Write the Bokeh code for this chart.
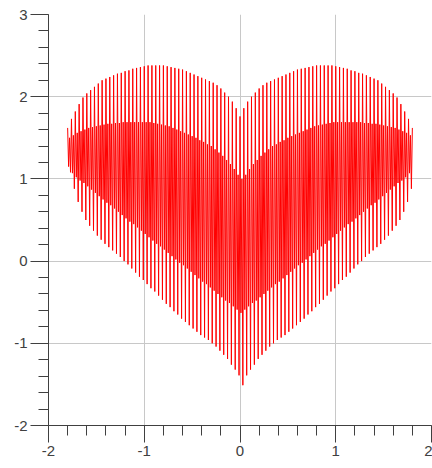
from bokeh.plotting import figure
from bokeh.embed import file_html
from bokeh.resources import INLINE
from bokeh.models import SingleIntervalTicker, CustomJSTickFormatter, ColumnDataSource

# x position of each stroke group (one group of four points every 0.04)
stroke_x = [-1.80, -1.76, -1.72, -1.68, -1.64, -1.60, -1.56, -1.52, -1.48, -1.44,
            -1.40, -1.36, -1.32, -1.28, -1.24, -1.20, -1.16, -1.12, -1.08, -1.04,
            -1.00, -0.96, -0.92, -0.88, -0.84, -0.80, -0.76, -0.72, -0.68, -0.64,
            -0.60, -0.56, -0.52, -0.48, -0.44, -0.40, -0.36, -0.32, -0.28, -0.24,
            -0.20, -0.16, -0.12, -0.08, -0.04, 0.00, 0.04, 0.08, 0.12, 0.16,
            0.20, 0.24, 0.28, 0.32, 0.36, 0.40, 0.44, 0.48, 0.52, 0.56,
            0.60, 0.64, 0.68, 0.72, 0.76, 0.80, 0.84, 0.88, 0.92, 0.96,
            1.00, 1.04, 1.08, 1.12, 1.16, 1.20, 1.24, 1.28, 1.32, 1.36,
            1.40, 1.44, 1.48, 1.52, 1.56, 1.60, 1.64, 1.68, 1.72, 1.76, 1.80]

# outer top of the strokes
outer_top = [1.62, 1.73, 1.82, 1.91, 1.99, 2.04, 2.08, 2.12, 2.16, 2.20,
             2.22, 2.24, 2.26, 2.28, 2.29, 2.31, 2.32, 2.34, 2.35, 2.36,
             2.37, 2.38, 2.38, 2.38, 2.38, 2.38, 2.37, 2.36, 2.35, 2.34,
             2.33, 2.31, 2.29, 2.27, 2.25, 2.23, 2.21, 2.19, 2.17, 2.14,
             2.10, 2.05, 2.00, 1.94, 1.86, 1.76, 1.86, 1.94, 2.00, 2.05,
             2.10, 2.14, 2.17, 2.19, 2.21, 2.23, 2.25, 2.27, 2.29, 2.31,
             2.33, 2.34, 2.35, 2.36, 2.37, 2.38, 2.38, 2.38, 2.38, 2.38,
             2.37, 2.36, 2.35, 2.34, 2.32, 2.31, 2.29, 2.28, 2.26, 2.24,
             2.22, 2.20, 2.16, 2.12, 2.08, 2.04, 1.99, 1.91, 1.82, 1.73, 1.62]

# upper edge of the inner (dense) heart
inner_top = [1.50, 1.53, 1.56, 1.58, 1.60, 1.62, 1.63, 1.64, 1.65, 1.66,
             1.67, 1.67, 1.68, 1.68, 1.69, 1.69, 1.69, 1.69, 1.69, 1.69,
             1.69, 1.69, 1.68, 1.67, 1.66, 1.65, 1.64, 1.62, 1.60, 1.58,
             1.56, 1.54, 1.52, 1.50, 1.47, 1.45, 1.42, 1.40, 1.36, 1.32,
             1.28, 1.23, 1.18, 1.12, 1.05, 1.00, 1.05, 1.12, 1.18, 1.23,
             1.28, 1.32, 1.36, 1.40, 1.42, 1.45, 1.47, 1.50, 1.52, 1.54,
             1.56, 1.58, 1.60, 1.62, 1.64, 1.65, 1.66, 1.67, 1.68, 1.69,
             1.69, 1.69, 1.69, 1.69, 1.69, 1.69, 1.69, 1.68, 1.68, 1.67,
             1.67, 1.66, 1.65, 1.64, 1.63, 1.62, 1.60, 1.58, 1.56, 1.53, 1.50]

# lower edge of the inner (dense) heart
inner_bottom = [1.15, 1.07, 1.02, 0.98, 0.95, 0.91, 0.87, 0.83, 0.79, 0.75,
                0.71, 0.68, 0.64, 0.60, 0.56, 0.52, 0.48, 0.45, 0.41, 0.37,
                0.33, 0.29, 0.25, 0.21, 0.18, 0.14, 0.10, 0.06, 0.02, -0.02,
                -0.05, -0.09, -0.13, -0.17, -0.21, -0.25, -0.28, -0.32, -0.36, -0.40,
                -0.44, -0.48, -0.51, -0.55, -0.59, -0.63, -0.59, -0.55, -0.51, -0.48,
                -0.44, -0.40, -0.36, -0.32, -0.28, -0.25, -0.21, -0.17, -0.13, -0.09,
                -0.05, -0.02, 0.02, 0.06, 0.10, 0.14, 0.18, 0.21, 0.25, 0.29,
                0.33, 0.37, 0.41, 0.45, 0.48, 0.52, 0.56, 0.60, 0.64, 0.68,
                0.71, 0.75, 0.79, 0.83, 0.87, 0.91, 0.95, 0.98, 1.02, 1.07, 1.15]

# outer bottom of the strokes
outer_bottom = [1.08, 0.88, 0.72, 0.60, 0.50, 0.43, 0.37, 0.31, 0.26, 0.21,
                0.17, 0.13, 0.09, 0.05, 0.00, -0.04, -0.09, -0.14, -0.19, -0.23,
                -0.28, -0.33, -0.37, -0.42, -0.47, -0.52, -0.56, -0.61, -0.65, -0.70,
                -0.74, -0.78, -0.82, -0.86, -0.90, -0.93, -0.96, -1.00, -1.04, -1.09,
                -1.14, -1.19, -1.26, -1.32, -1.39, -1.51, -1.39, -1.32, -1.26, -1.19,
                -1.14, -1.09, -1.04, -1.00, -0.96, -0.93, -0.90, -0.86, -0.82, -0.78,
                -0.74, -0.70, -0.65, -0.61, -0.56, -0.52, -0.47, -0.42, -0.37, -0.33,
                -0.28, -0.23, -0.19, -0.14, -0.09, -0.04, 0.00, 0.05, 0.09, 0.13,
                0.17, 0.21, 0.26, 0.31, 0.37, 0.43, 0.50, 0.60, 0.72, 0.88, 1.08]

assert len(stroke_x) == len(outer_top) == len(inner_top) == len(inner_bottom) == len(outer_bottom)

# one polyline: top -> inner bottom -> inner top -> bottom -> next top ...
xs, ys = [], []
n = len(stroke_x)
for k in range(n):
    group = (outer_top[k], inner_bottom[k], inner_top[k], outer_bottom[k])
    for j, yv in enumerate(group):
        if k == n - 1 and j > 0:
            break
        xs.append(stroke_x[k] + 0.01 * j)
        ys.append(yv)
source = ColumnDataSource(data=dict(x=xs, y=ys))

p = figure(width=432, height=468, x_range=(-2, 2), y_range=(-2, 3),
           output_backend="svg", toolbar_location=None,
           min_border_left=48, min_border_right=1, min_border_top=14, min_border_bottom=43)
p.outline_line_color = None
p.line("x", "y", source=source, line_color="#ff0000", line_width=1)

for ax, out in ((p.xaxis[0], 17), (p.yaxis[0], 18)):
    ax.ticker = SingleIntervalTicker(interval=1, num_minor_ticks=5)
    ax.formatter = CustomJSTickFormatter(code="return tick.toFixed(0);")
    ax.major_tick_in = 0
    ax.minor_tick_in = 0
    ax.major_tick_out = out
    ax.minor_tick_out = 10
    ax.axis_line_color = "#404040"
    ax.major_tick_line_color = "#404040"
    ax.minor_tick_line_color = "#404040"
    ax.major_label_text_font = "Liberation Sans"
    ax.major_label_text_font_size = "15px"
    ax.major_label_text_color = "#404040"
    ax.major_label_standoff = 3
p.xgrid.grid_line_color = "#c8c8c8"
p.ygrid.grid_line_color = "#c8c8c8"

open("out.html", "w").write(file_html(p, INLINE))
